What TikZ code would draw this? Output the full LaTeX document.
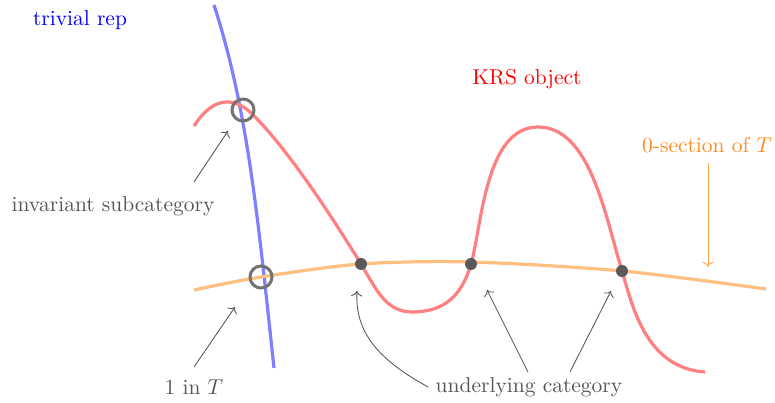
\documentclass[tikz,border=0pt]{standalone}
\usetikzlibrary{arrows.meta}
\definecolor{lblgray}{RGB}{85,85,85}
\definecolor{zsec}{RGB}{255,140,30}
\begin{document}
\begin{tikzpicture}[x=0.465pt,y=-0.465pt,
  bluecurve/.style={draw=blue!50,line width=1.5pt},
  redcurve/.style={draw=red!50,line width=1.5pt},
  orangecurve/.style={draw=orange!50,line width=1.5pt},
  opendot/.style={circle,draw=black!55,line width=1.4pt,minimum size=22*0.465pt,inner sep=0pt},
  fulldot/.style={circle,fill=black!65,minimum size=12*0.465pt,inner sep=0pt},
  lbl/.style={text=lblgray,inner sep=1pt},
  pointer/.style={->,draw=lblgray,line width=0.4pt}]
\useasboundingbox (0,0) rectangle (775,403);
% curves
\draw[bluecurve] (214,5) .. controls (248,110) and (258,220) .. (274,368);
\draw[orangecurve] plot[smooth] coordinates {(194,290) (261,277) (361,264) (471,262) (622,271) (766,289)};
\draw[redcurve] (194,126) .. controls (212,98) and (232,96) .. (250,112)
  .. controls (290,150) and (340,230) .. (361,264)
  .. controls (375,287) and (385,312) .. (412,312)
  .. controls (445,312) and (462,295) .. (471,264)
  .. controls (482,226) and (485,127) .. (538,127)
  .. controls (590,127) and (605,215) .. (622,271)
  .. controls (632,304) and (645,368) .. (705,372);
% marks
\node[opendot] (inv) at (243,110) {};
\node[opendot] (one) at (261,277) {};
\node[fulldot] (u1) at (361,264) {};
\node[fulldot] (u2) at (471,264) {};
\node[fulldot] (u3) at (622,271) {};
% labels
\node[text=blue] (triv) at (80,20) {trivial rep};
\node[text=red] (krs) at (527,79) {KRS object};
\node[text=zsec] (zero) at (707,145) {0-section of $T$};
\node[lbl] (invlbl) at (113,206) {invariant subcategory};
\node[lbl] (onelbl) at (194,387) {1 in $T$};
\node[lbl] (undl) at (529,387) {underlying category};
% arrows
\coordinate (zt) at (708,267);
\draw[->,draw=zsec!80,line width=0.4pt] (708,163) -- (zt);
\coordinate (it) at (228,131);
\draw[pointer] (194,182) -- (it);
\coordinate (ot) at (235,307);
\draw[pointer] (onelbl.north) ++(0,-10) -- (ot);
\coordinate (t1) at (357,291);
\coordinate (t2) at (487,290);
\coordinate (t3) at (611,291);
\draw[pointer] (undl.west) ++(-5,0) .. controls (375,358) and (355,330) .. (t1);
\draw[pointer] (528,372) -- (t2);
\draw[pointer] (570,372) -- (t3);
\end{tikzpicture}
\end{document}
